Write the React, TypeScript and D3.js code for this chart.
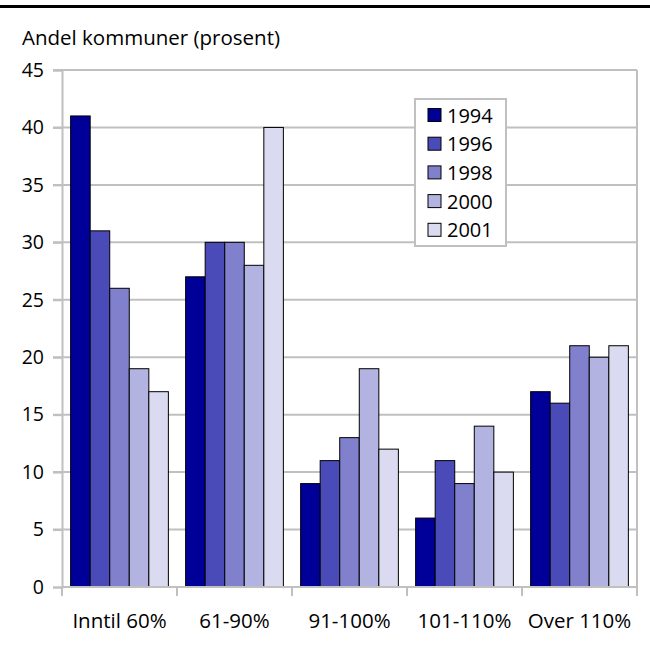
import React, { useEffect, useRef } from "react";
import * as d3 from "d3";

const categories = ["Inntil 60%", "61-90%", "91-100%", "101-110%", "Over 110%"];
const years = ["1994", "1996", "1998", "2000", "2001"];
const values1994 = [41, 27, 9, 6, 17];
const values1996 = [31, 30, 11, 11, 16];
const values1998 = [26, 30, 13, 9, 21];
const values2000 = [19, 28, 19, 14, 20];
const values2001 = [17, 40, 12, 10, 21];
const yTicks = [0, 5, 10, 15, 20, 25, 30, 35, 40, 45];
const colors = ["#000099", "#4a4ab8", "#8080cc", "#b3b3e1", "#dadaf0"];

const series = [values1994, values1996, values1998, values2000, values2001];

export default function App() {
  const svgRef = useRef<SVGSVGElement>(null);

  useEffect(() => {
    const width = 650, height = 648;
    const margin = { top: 70, right: 13, bottom: 61, left: 62 };
    const svg = d3.select(svgRef.current);
    svg.selectAll("*").remove();
    const font = "'Open Sans', 'Noto Sans', sans-serif";

    // black rule at top
    svg.append("rect")
      .attr("x", 0).attr("y", 5)
      .attr("width", width).attr("height", 3)
      .attr("fill", "#000");

    const x0 = d3.scaleBand()
      .domain(categories)
      .range([margin.left, width - margin.right])
      .paddingInner(0.15)
      .paddingOuter(0.075);
    const x1 = d3.scaleBand()
      .domain(years)
      .range([0, x0.bandwidth()]);
    const y = d3.scaleLinear()
      .domain([0, 45])
      .range([height - margin.bottom, margin.top]);

    const grid = "#c0c0c0";
    // gridlines
    svg.append("g")
      .selectAll("line")
      .data(yTicks.filter(t => t > 0))
      .join("line")
      .attr("x1", margin.left - 9)
      .attr("x2", width - margin.right)
      .attr("y1", d => y(d))
      .attr("y2", d => y(d))
      .attr("stroke", grid)
      .attr("stroke-width", 2);
    // right border
    svg.append("line")
      .attr("x1", width - margin.right).attr("x2", width - margin.right)
      .attr("y1", y(45)).attr("y2", y(0))
      .attr("stroke", grid).attr("stroke-width", 2);

    // bars
    const groups = svg.append("g")
      .selectAll("g")
      .data(categories)
      .join("g")
      .attr("transform", d => `translate(${x0(d)},0)`);
    groups.selectAll("rect")
      .data((d, i) => years.map((yr, j) => ({ yr, v: series[j][i], j })))
      .join("rect")
      .attr("x", d => x1(d.yr)!)
      .attr("y", d => y(d.v))
      .attr("width", x1.bandwidth())
      .attr("height", d => y(0) - y(d.v))
      .attr("fill", d => colors[d.j])
      .attr("stroke", "#000")
      .attr("stroke-width", 1);

    // y axis
    const yAxis = svg.append("g")
      .attr("transform", `translate(${margin.left},0)`)
      .call(d3.axisLeft(y).tickValues(yTicks).tickSize(9).tickPadding(9));
    yAxis.select(".domain").attr("stroke", grid).attr("stroke-width", 2);
    yAxis.selectAll(".tick line").attr("stroke", grid).attr("stroke-width", 2);
    yAxis.selectAll("text")
      .attr("font-family", font).attr("font-size", 19.5).attr("fill", "#000");

    // x axis
    const xAxis = svg.append("g")
      .attr("transform", `translate(0,${y(0)})`);
    xAxis.append("line")
      .attr("x1", margin.left).attr("x2", width - margin.right)
      .attr("stroke", grid).attr("stroke-width", 2);
    const step = x0.step();
    xAxis.selectAll(".xtick")
      .data(d3.range(categories.length + 1))
      .join("line")
      .attr("class", "xtick")
      .attr("x1", i => margin.left + i * step)
      .attr("x2", i => margin.left + i * step)
      .attr("y1", 0).attr("y2", 9)
      .attr("stroke", grid).attr("stroke-width", 2);
    xAxis.selectAll("text")
      .data(categories)
      .join("text")
      .attr("x", d => x0(d)! + x0.bandwidth() / 2)
      .attr("y", 41)
      .attr("text-anchor", "middle")
      .attr("font-family", font).attr("font-size", 20.5)
      .text(d => d);

    // y label
    svg.append("text")
      .attr("x", 22).attr("y", 45)
      .attr("font-family", font).attr("font-size", 20.5)
      .text("Andel kommuner (prosent)");

    // legend
    const lg = svg.append("g").attr("transform", "translate(415,99)");
    lg.append("rect")
      .attr("width", 91).attr("height", 147)
      .attr("fill", "#fff").attr("stroke", grid).attr("stroke-width", 2);
    const items = lg.selectAll(".item")
      .data(years)
      .join("g")
      .attr("class", "item")
      .attr("transform", (d, i) => `translate(13,${16 + i * 28.7})`);
    items.append("rect")
      .attr("x", 0).attr("y", -6.5)
      .attr("width", 13).attr("height", 13)
      .attr("fill", (d, i) => colors[i])
      .attr("stroke", "#000").attr("stroke-width", 1);
    items.append("text")
      .attr("x", 19).attr("y", 7.5)
      .attr("font-family", font).attr("font-size", 20)
      .text(d => d);
  }, []);

  return (
    <svg
      ref={svgRef}
      width={650}
      height={648}
      style={{ position: "absolute", left: 0, top: 0, background: "#fff" }}
    ></svg>
  );
}
